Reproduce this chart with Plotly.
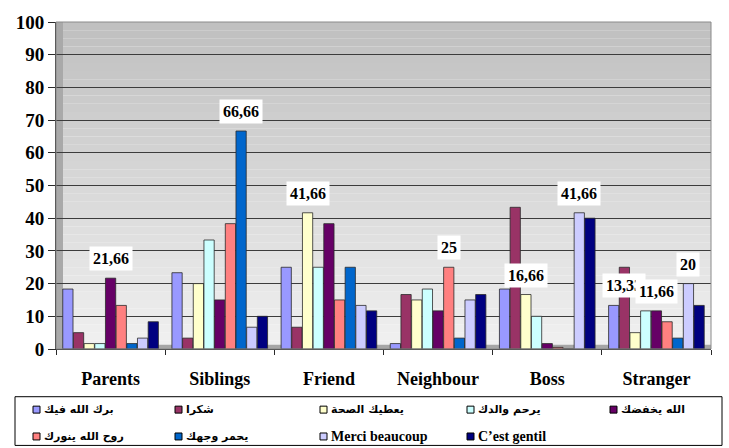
import plotly.graph_objects as go

# ---------------- data ----------------
categories = ["Parents", "Siblings", "Friend", "Neighbour", "Boss", "Stranger"]

series_names = [
    "برك الله فيك", "شكرا", "يعطيك الصحة", "يرحم والدك", "الله يخفضك",
    "روح الله ينورك", "يحمر وجهك", "Merci beaucoup", "C’est gentil",
]
series_colors = [
    "#9999FF", "#993366", "#FFFFCC", "#CCFFFF", "#660066",
    "#FF8080", "#0066CC", "#CCCCFF", "#000080",
]

barak_allah_fik = [18.33, 23.33, 25, 1.66, 18.33, 13.33]
shukran = [5, 3.33, 6.66, 16.66, 43.33, 25]
yatik_saha = [1.66, 20, 41.66, 15, 16.66, 5]
yarham_walidik = [1.66, 33.33, 25, 18.33, 10, 11.66]
allah_yakhfadak = [21.66, 15, 38.33, 11.66, 1.66, 11.66]
rouh_allah = [13.33, 38.33, 15, 25, 0.5, 8.33]
yahmar_wajhak = [1.66, 66.66, 25, 3.33, 0, 3.33]
merci_beaucoup = [3.33, 6.66, 13.33, 15, 41.66, 20]
cest_gentil = [8.33, 10, 11.66, 16.66, 40, 13.33]

series_values = [
    barak_allah_fik, shukran, yatik_saha, yarham_walidik, allah_yakhfadak,
    rouh_allah, yahmar_wajhak, merci_beaucoup, cest_gentil,
]

# labelled points: (category index, series index, text)
labelled = [
    (0, 4, "21,66"), (1, 6, "66,66"), (2, 2, "41,66"), (3, 5, "25"),
    (4, 2, "16,66"), (4, 7, "41,66"), (5, 0, "13,33"), (5, 4, "11,66"),
    (5, 7, "20"),
]

y_ticks = [0, 10, 20, 30, 40, 50, 60, 70, 80, 90, 100]

# ---------------- layout geometry ----------------
W, H = 729, 448
L, R, T, B = 56, 18, 20, 99
PW, PH = W - L - R, H - T - B


def px2x(px):
    return (px - L) / PW


def py2y(py):
    return (H - B - py) / PH


fig = go.Figure()

n_series = len(series_values)
bargap = 0.12
slot = (1 - bargap) / n_series

for name, color, vals in zip(series_names, series_colors, series_values):
    fig.add_trace(go.Bar(
        x=categories, y=vals, name=name,
        marker=dict(color=color, line=dict(color="#2a2a2a", width=0.8)),
        showlegend=False,
    ))

shapes = []
# wall gradient bands (background)
nb = 40
c_top = (192, 192, 192)
c_bot = (240, 240, 240)
for i in range(nb):
    f = i / (nb - 1)
    c = tuple(int(round(c_bot[k] + (c_top[k] - c_bot[k]) * f)) for k in range(3))
    shapes.append(dict(type="rect", xref="paper", yref="y", layer="below",
                       x0=0, x1=1, y0=100 * i / nb, y1=100 * (i + 1) / nb,
                       fillcolor="rgb(%d,%d,%d)" % c, line=dict(width=0)))
# side wall
shapes.append(dict(type="rect", xref="paper", yref="paper", layer="below",
                   x0=0, x1=px2x(63), y0=0, y1=1,
                   fillcolor="#a9a9a9", line=dict(width=0)))
# floor
shapes.append(dict(type="rect", xref="paper", yref="y", layer="below",
                   x0=0, x1=1, y0=0, y1=1.3,
                   fillcolor="#a6a6a6", line=dict(width=0)))
# wall outline (top / right)
shapes.append(dict(type="rect", xref="paper", yref="paper", layer="above",
                   x0=0, x1=1, y0=0, y1=1,
                   line=dict(color="#8a8a8a", width=1)))
# legend box
shapes.append(dict(type="rect", xref="paper", yref="paper", layer="above",
                   x0=px2x(15), x1=px2x(722), y0=py2y(446), y1=py2y(397),
                   fillcolor="rgba(0,0,0,0)", line=dict(color="black", width=1)))

annotations = []
# data labels
for ci, si, txt in labelled:
    xpos = ci - (1 - bargap) / 2 + slot * (si + 0.5)
    xs = 10 if (ci, si) == (5, 0) else 0
    annotations.append(dict(
        x=xpos, y=series_values[si][ci], xref="x", yref="y",
        text=txt, showarrow=False, yanchor="bottom", yshift=7, xshift=xs,
        bgcolor="white", borderpad=3,
        font=dict(family="Liberation Serif", size=16, color="black", weight="bold"),
    ))

# manual legend
col_x = [33, 175, 320, 467, 610]
row_y = [410, 437]
for i, (name, color) in enumerate(zip(series_names, series_colors)):
    r, c = divmod(i, 5)
    sx = col_x[c]
    sy = row_y[r]
    shapes.append(dict(type="rect", xref="paper", yref="paper", layer="above",
                       x0=px2x(sx), x1=px2x(sx + 7), y0=py2y(sy + 3.5), y1=py2y(sy - 3.5),
                       fillcolor=color, line=dict(color="black", width=1)))
    latin = name[0].isascii()
    annotations.append(dict(
        x=px2x(sx + 9), y=py2y(sy), xref="paper", yref="paper",
        xanchor="left", yanchor="middle", showarrow=False, text=name,
        font=dict(family="Liberation Serif" if latin else "DejaVu Sans",
                  size=14 if latin else 11, color="black", weight="bold"),
    ))

fig.update_layout(
    width=W, height=H,
    margin=dict(l=L, r=R, t=T, b=B, pad=0),
    paper_bgcolor="white",
    plot_bgcolor="rgba(0,0,0,0)",
    barmode="group", bargap=bargap, bargroupgap=0.04,
    shapes=shapes, annotations=annotations,
    showlegend=False,
)
fig.update_xaxes(
    type="category", showgrid=False, showline=True, linecolor="#2a2a2a", linewidth=1,
    ticks="outside", tickson="boundaries", ticklen=5, tickcolor="#2a2a2a",
    ticklabelstandoff=13,
    tickfont=dict(family="Liberation Serif", size=18, color="black", weight="bold"),
)
fig.update_yaxes(
    range=[0, 100], tickvals=y_ticks, showgrid=True, gridcolor="#3c3c3c", gridwidth=1,
    showline=True, linecolor="#2a2a2a", linewidth=1, zeroline=False,
    ticks="outside", ticklen=7, tickcolor="#2a2a2a",
    tickfont=dict(family="Liberation Serif", size=19, color="black", weight="bold"),
)

fig.write_html("out.html")
